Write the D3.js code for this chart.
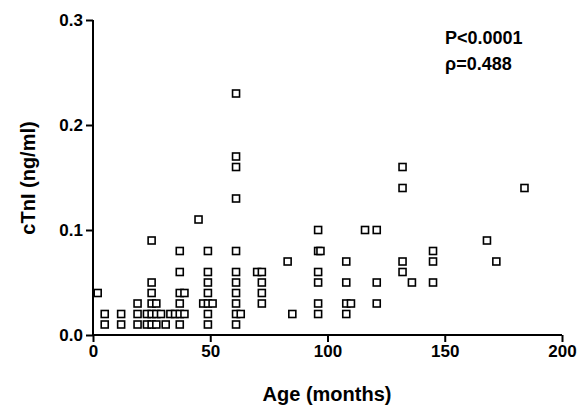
<!DOCTYPE html><html><head><script src="https://cdn.jsdelivr.net/npm/d3@7"></script>
<style>body{margin:0;background:#fff}text{font-family:Arial,"Liberation Sans",sans-serif;font-weight:bold}</style></head><body><svg width="584" height="413"></svg><script>
const ages=[2,5,5,12,12,19,19,19,23,23,25,25,25,25,25,25,27,27,27,29,31,33,35,37,37,37,37,37,37,39,39,45,47,49,49,49,49,49,49,49,51,61,61,61,61,61,61,61,61,61,61,61,63,70,72,72,72,72,83,85,96,96,97,96,96,96,96,108,108,108,110,108,116,121,121,121,132,132,132,132,136,145,145,145,168,172,184];
const ctni=[0.04,0.02,0.01,0.02,0.01,0.03,0.02,0.01,0.02,0.01,0.09,0.05,0.04,0.03,0.02,0.01,0.03,0.02,0.01,0.02,0.01,0.02,0.02,0.08,0.06,0.04,0.03,0.02,0.01,0.04,0.02,0.11,0.03,0.08,0.06,0.05,0.04,0.03,0.02,0.01,0.03,0.23,0.17,0.16,0.13,0.08,0.06,0.05,0.04,0.03,0.02,0.01,0.02,0.06,0.06,0.05,0.04,0.03,0.07,0.02,0.10,0.08,0.08,0.06,0.05,0.03,0.02,0.07,0.05,0.03,0.03,0.02,0.10,0.10,0.05,0.03,0.16,0.14,0.07,0.06,0.05,0.08,0.07,0.05,0.09,0.07,0.14];
const xTicks=[0,50,100,150,200], yTicks=[0.0,0.1,0.2,0.3];
const svg=d3.select("svg");
const x=d3.scaleLinear().domain([0,200]).range([93,562]);
const y=d3.scaleLinear().domain([0,0.3]).range([335,20]);
const ax=svg.append("g").attr("transform","translate(0,335)").call(d3.axisBottom(x).tickValues(xTicks).tickSize(7).tickPadding(3));
const ay=svg.append("g").attr("transform","translate(93,0)").call(d3.axisLeft(y).tickValues(yTicks).tickFormat(d3.format(".1f")).tickSize(7).tickPadding(3));
[ax,ay].forEach(a=>{a.selectAll("path,line").attr("stroke","#000").attr("stroke-width",2);a.selectAll("text").attr("font-size",17).attr("fill","#000");a.select(".domain").attr("d",a===ax?"M93,0H562":"M0,20V335");});
svg.append("g").selectAll("rect").data(ages).join("rect").attr("x",(d)=>x(d)-3.5).attr("y",(d,i)=>y(ctni[i])-3.5).attr("width",7).attr("height",7).attr("fill","#fff").attr("stroke","#000").attr("stroke-width",1.6);
svg.append("text").attr("x",327).attr("y",401).attr("text-anchor","middle").attr("font-size",20).text("Age (months)");
svg.append("text").attr("transform","translate(35,178) rotate(-90)").attr("text-anchor","middle").attr("font-size",20).text("cTnI (ng/ml)");
svg.append("text").attr("x",445).attr("y",44).attr("font-size",18).text("P<0.0001");
svg.append("text").attr("x",445).attr("y",70).attr("font-size",18).text("ρ=0.488");
</script></body></html>
